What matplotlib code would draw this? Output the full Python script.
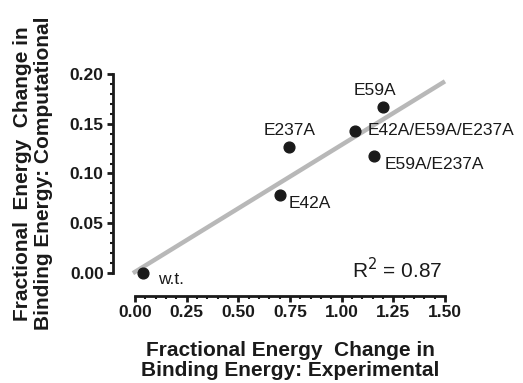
import numpy as np
import matplotlib.pyplot as plt
from matplotlib.ticker import MultipleLocator

# experimental vs computational fractional energy change
labels = ["w.t.", "E42A", "E237A", "E42A/E59A/E237A", "E59A/E237A", "E59A"]
x_exp = np.array([0.04, 0.70, 0.745, 1.064, 1.156, 1.20])
y_comp = np.array([0.000, 0.078, 0.127, 0.143, 0.118, 0.167])

# label offsets in points (dx, dy, ha)
label_pos = {
    "w.t.": (11, -4.5, "left"),
    "E42A": (6.5, -6, "left"),
    "E237A": (0.5, 11.5, "center"),
    "E42A/E59A/E237A": (9.4, 0, "left"),
    "E59A/E237A": (8, -6.5, "left"),
    "E59A": (-5.8, 11.5, "center"),
}

plt.rcParams['font.family'] = ['Liberation Sans', 'DejaVu Sans']

fig = plt.figure(figsize=(5.23, 3.83), dpi=100)
ax = fig.add_axes([0.2581, 0.2872, 0.5927, 0.5196])

# least squares fit
slope, icpt = np.polyfit(x_exp, y_comp, 1)
r2 = np.corrcoef(x_exp, y_comp)[0, 1] ** 2
xf = np.array([-0.01, 1.5])
ax.plot(xf, slope * xf + icpt, color="#b8b8b8", lw=3.2, solid_capstyle="butt",
        clip_on=False, zorder=1)

ax.scatter(x_exp, y_comp, s=60, color="#1a1a1a", zorder=3, clip_on=False)
for lab, xx, yy in zip(labels, x_exp, y_comp):
    dx, dy, ha = label_pos[lab]
    ax.annotate(lab, (xx, yy), xytext=(dx, dy), textcoords="offset points",
                ha=ha, va="center", fontsize=12.5, color="#1a1a1a")

ax.text(1.05, -0.005, f"R$^2$ = {r2:.2f}", fontsize=15, color="#1a1a1a",
        va="baseline")

ax.set_xlim(0, 1.5)
ax.set_ylim(0, 0.2)
ax.xaxis.set_major_locator(MultipleLocator(0.25))
ax.xaxis.set_minor_locator(MultipleLocator(0.05))
ax.yaxis.set_major_locator(MultipleLocator(0.05))
ax.yaxis.set_minor_locator(MultipleLocator(0.01))
ax.xaxis.set_major_formatter(lambda v, p: f"{v:.2f}")
ax.yaxis.set_major_formatter(lambda v, p: f"{v:.2f}")

for s in ["top", "right"]:
    ax.spines[s].set_visible(False)
ax.spines["left"].set_position(("outward", 16))
ax.spines["bottom"].set_position(("outward", 16.5))
for s in ["left", "bottom"]:
    ax.spines[s].set_linewidth(2)
    ax.spines[s].set_color("#1a1a1a")

ax.tick_params(which="major", length=4.5, width=2, color="#1a1a1a", pad=2)
ax.tick_params(which="minor", length=2.5, width=1.5, color="#1a1a1a")
for t in ax.get_xticklabels() + ax.get_yticklabels():
    t.set_fontweight("bold")
    t.set_fontsize(12.5)
    t.set_color("#1a1a1a")

ax.set_xlabel("Fractional Energy  Change in\nBinding Energy: Experimental",
              fontsize=15, fontweight="bold", color="#1a1a1a", labelpad=15,
              linespacing=1.1)
ax.set_ylabel("Fractional  Energy  Change in\nBinding Energy: Computational",
              fontsize=15, fontweight="bold", color="#1a1a1a", labelpad=12,
              linespacing=1.15)

fig.savefig("out.png", dpi=100)
